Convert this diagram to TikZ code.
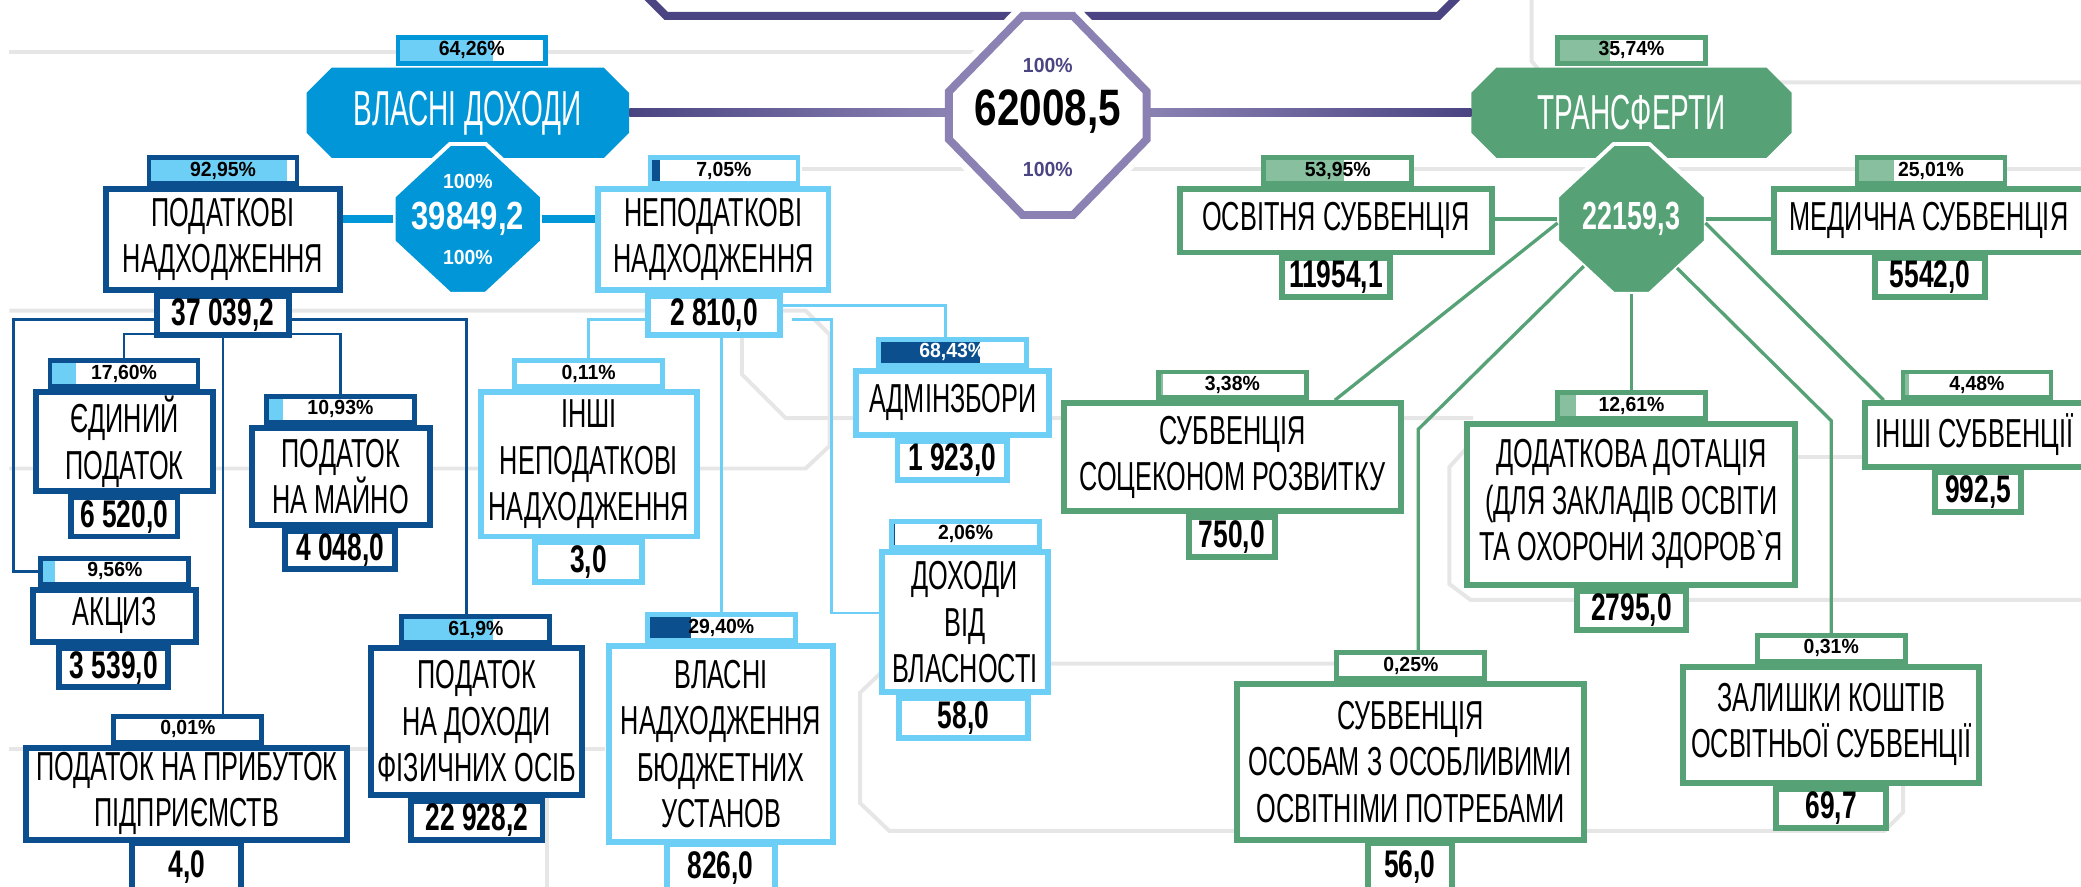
\documentclass[tikz,border=0pt]{standalone}
\usepackage{fontspec}
\usetikzlibrary{calc}
\newfontfamily\boxfont{Liberation Sans}[FakeStretch=0.625]
\newfontfamily\numfont{Liberation Sans}[FakeStretch=0.685]
\newfontfamily\headfont{Liberation Sans}[FakeStretch=0.57]
\newfontfamily\octfont{Liberation Sans}[FakeStretch=0.79]
\newfontfamily\pctfont{Liberation Sans}[FakeStretch=0.95]
\definecolor{dblue}{HTML}{0B4F8E}
\definecolor{pblue}{HTML}{0096D7}
\definecolor{lblue}{HTML}{6DCFF6}
\definecolor{grn}{HTML}{56A276}
\definecolor{lgrn}{HTML}{87BF9F}
\definecolor{dpurp}{HTML}{4A4582}
\definecolor{lpurp}{HTML}{8B82B3}
\definecolor{lgray}{HTML}{E6E6E6}
\newcommand\octshape[5]{(#1) ++(-#2,-#5) -- ++(0,2*#5) -- ++(#2-#4,#3-#5) -- ++(2*#4,0) -- ++(#2-#4,-#3+#5) -- ++(0,-2*#5) -- ++(-#2+#4,-#3+#5) -- ++(-2*#4,0) -- cycle}
\begin{document}
\begin{tikzpicture}[x=1pt,y=-1pt,
  txtbox/.style={draw=#1,line width=4.5pt,fill=white,inner sep=0pt,align=center,font=\boxfont\fontsize{30.5}{35}\selectfont},
  valbox/.style={draw=#1,line width=4.5pt,fill=white,inner sep=0pt,font=\numfont\bfseries\fontsize{29}{30}\selectfont},
  pcttab/.style n args={3}{draw=#1,line width=3.5pt,fill=white,minimum width=111.5pt,minimum height=19.5pt,inner sep=0pt,
    font=\pctfont\bfseries\fontsize{15.4}{16}\selectfont,
    path picture={\fill[#2] (path picture bounding box.south west) rectangle ($(path picture bounding box.north west)!#3!(path picture bounding box.north east)$);}},
  sz/.style 2 args={minimum width=#1pt,minimum height=#2pt},
  grayline/.style={lgray,line width=3pt},
  dline/.style={dblue,line width=2pt},
  lline/.style={lblue,line width=2pt},
  gline/.style={grn,line width=2.5pt},
  octnum/.style={inner sep=0pt,font=\octfont\bfseries\fontsize{29.6}{30}\selectfont},
  hundred/.style={inner sep=0pt,font=\pctfont\bfseries\fontsize{15.4}{16}\selectfont}]
\useasboundingbox (0,0) rectangle (1568,668);
\draw[grayline] (7,39) -- (745,39);
\draw[grayline] (604,127) -- (1568,127);
\draw[grayline] (7,234) -- (607,234) -- (625,252) -- (625,336) -- (607,353) -- (7,353);
\draw[grayline] (559,240) -- (559,282) -- (592,315) -- (1110,315);
\draw[grayline] (1112,330) -- (1092,352) -- (1092,440) -- (1108,452) -- (1568,452);
\draw[grayline] (1300,344) -- (1410,344);
\draw[grayline] (1154,0) -- (1154,46) -- (1163,57) -- (1250,57) -- (1255,62) -- (1568,62);
\draw[grayline] (1006,500) -- (671,500) -- (648,522) -- (648,605) -- (670,626) -- (1420,626) -- (1434,612) -- (1434,592);
\draw[grayline] (7,564) -- (456,564);
\draw[grayline] (412,600) -- (412,668);
\draw[dpurp,line width=6pt] (482,-8) -- (502,12) -- (1084,12) -- (1104,-8);

\node[pcttab={pblue}{lblue}{0.6426}] (tvd) at (355.5,38) {64,26\%};
\fill[pblue] \octshape{352.5,85}{121.5}{34}{102.5}{15};
\node[sz={243}{68},inner sep=0pt,text=white,font=\headfont\fontsize{37}{40}\selectfont] (vd) at (352.5,85) {ВЛАСНІ ДОХОДИ};
\node[pcttab={grn}{lgrn}{0.3574}] (ttr) at (1229.3,38) {35,74\%};
\fill[grn] \octshape{1229.3,85}{120.7}{34}{101.7}{15};
\node[sz={241}{68},inner sep=0pt,text=white,font=\headfont\fontsize{37}{40}\selectfont] (tr) at (1229.3,85) {ТРАНСФЕРТИ};

\draw[white,line width=3pt,fill=pblue] \octshape{352.5,165}{56}{56.5}{13.5}{17};
\node[octnum,sz={112}{30},text=white] (boct) at (352.5,165) {39849,2};
\node[hundred,text=white] (boctT) at ([yshift=28.5pt]boct.center) {100\%};
\node[hundred,text=white] (boctB) at ([yshift=-29pt]boct.center) {100\%};
\draw[white,line width=3pt,fill=grn] \octshape{1229.3,165}{56}{56.5}{13.5}{17};
\node[octnum,sz={112}{30},text=white,font=\numfont\bfseries\fontsize{29.6}{30}\selectfont] (goct) at (1229.3,165) {22159,3};

\draw[white,line width=16pt] \octshape{789.5,87}{74.5}{75}{19}{18};
\draw[lpurp,line width=6pt,fill=white] \octshape{789.5,87}{74.5}{75}{19}{18};
\node[inner sep=0pt,sz={149}{40},font=\octfont\bfseries\fontsize{38.6}{40}\selectfont] (cen) at (789.5,84) {62008,5};
\node[hundred,text=dpurp] (cenT) at ([yshift=35pt]cen.center) {100\%};
\node[hundred,text=dpurp] (cenB) at ([yshift=-44pt]cen.center) {100\%};

\node[pcttab={dblue}{lblue}{0.9295}] (tpod) at (168,128.5) {92,95\%};
\node[txtbox=dblue,sz={176.5}{76}] (pod) at (168,180.25) {ПОДАТКОВІ\\НАДХОДЖЕННЯ};
\node[valbox=dblue,sz={99.5}{30}] (vpod) at (168,237.75) {37 039,2};
\node[pcttab={dblue}{lblue}{0.176}] (tedy) at (93.5,281.5) {17,60\%};
\node[txtbox=dblue,sz={133}{75}] (edy) at (93.75,332.75) {ЄДИНИЙ\\ПОДАТОК};
\node[valbox=dblue,sz={80.5}{29.5}] (vedy) at (93.5,389.5) {6 520,0};
\node[pcttab={dblue}{lblue}{0.0956}] (takc) at (86.5,430.5) {9,56\%};
\node[txtbox=dblue,sz={123}{39.5}] (akc) at (86.25,464) {АКЦИЗ};
\node[valbox=dblue,sz={82}{29.5}] (vakc) at (85.75,503) {3 539,0};
\node[pcttab={dblue}{lblue}{0.1093}] (tmai) at (256.5,308.5) {10,93\%};
\node[txtbox=dblue,sz={134}{73.5}] (mai) at (256.75,359) {ПОДАТОК\\НА МАЙНО};
\node[valbox=dblue,sz={83}{28.5}] (vmai) at (256.25,414.5) {4 048,0};
\node[pcttab={dblue}{lblue}{0.619}] (tfiz) at (358.5,474.5) {61,9\%};
\node[txtbox=dblue,sz={159}{110.5}] (fiz) at (359.25,543.5) {ПОДАТОК\\НА ДОХОДИ\\ФІЗИЧНИХ ОСІБ};
\node[valbox=dblue,sz={99}{29.5}] (vfiz) at (359.25,618) {22 928,2};
\node[pcttab={dblue}{lblue}{0.0001}] (tpri) at (141.5,549.5) {0,01\%};
\node[txtbox=dblue,sz={242}{69.5}] (pri) at (140.75,598) {ПОДАТОК НА ПРИБУТОК\\ПІДПРИЄМСТВ};
\node[valbox=dblue,sz={82}{36}] (vpri) at (140.75,653) {4,0};

\node[pcttab={lblue}{dblue}{0.0705}] (tnep) at (545.5,128.5) {7,05\%};
\node[txtbox=lblue,sz={173.5}{76}] (nep) at (537.5,180.25) {НЕПОДАТКОВІ\\НАДХОДЖЕННЯ};
\node[valbox=lblue,sz={99.5}{30}] (vnep) at (538,237.75) {2 810,0};
\node[pcttab={lblue}{dblue}{0.0011}] (tinn) at (443.5,281.5) {0,11\%};
\node[txtbox=lblue,sz={163}{109}] (inn) at (443.75,349.75) {ІНШІ\\НЕПОДАТКОВІ\\НАДХОДЖЕННЯ};
\node[valbox=lblue,sz={80.5}{29.5}] (vinn) at (443.5,423.5) {3,0};
\node[pcttab={lblue}{dblue}{0.6843},text=white] (tadm) at (717.5,265.5) {68,43\%};
\node[txtbox=lblue,sz={145.5}{48.5}] (adm) at (718,303.5) {АДМІНЗБОРИ};
\node[valbox=lblue,sz={82.5}{29.5}] (vadm) at (717.5,347) {1 923,0};
\node[pcttab={lblue}{dblue}{0.0206}] (tvla) at (727.5,402.5) {2,06\%};
\node[txtbox=lblue,sz={125.5}{105.5}] (vla) at (727,469) {ДОХОДИ\\ВІД\\ВЛАСНОСТІ};
\node[valbox=lblue,sz={97.5}{29.5}] (vvla) at (726,541) {58,0};
\node[pcttab={lblue}{dblue}{0.294}] (tbud) at (543.5,473) {29,40\%};
\node[txtbox=lblue,sz={169}{148}] (bud) at (543.25,560.75) {ВЛАСНІ\\НАДХОДЖЕННЯ\\БЮДЖЕТНИХ\\УСТАНОВ};
\node[valbox=lblue,sz={81.5}{36}] (vbud) at (543,654) {826,0};

\node[pcttab={grn}{lgrn}{0.5395}] (tosv) at (1008,128.5) {53,95\%};
\node[txtbox=grn,sz={235}{48}] (osv) at (1006.5,166.25) {ОСВІТНЯ СУБВЕНЦІЯ};
\node[valbox=grn,sz={82}{29}] (vosv) at (1006.6,209) {11954,1};
\node[pcttab={grn}{lgrn}{0.2501}] (tmed) at (1455,128.5) {25,01\%};
\node[txtbox=grn,sz={233}{48}] (med) at (1453.5,166.25) {МЕДИЧНА СУБВЕНЦІЯ};
\node[valbox=grn,sz={82.5}{29}] (vmed) at (1454.3,209) {5542,0};
\node[pcttab={grn}{lgrn}{0.0338}] (tsoc) at (928.5,290) {3,38\%};
\node[txtbox=grn,sz={254}{81.5}] (soc) at (928.6,344.5) {СУБВЕНЦІЯ\\СОЦЕКОНОМ РОЗВИТКУ};
\node[valbox=grn,sz={65}{30}] (vsoc) at (928.1,404.5) {750,0};
\node[pcttab={grn}{lgrn}{0.1261}] (tdod) at (1229.3,305.5) {12,61\%};
\node[txtbox=grn,sz={247}{121.5}] (dod) at (1229.1,380) {ДОДАТКОВА ДОТАЦІЯ\\(ДЛЯ ЗАКЛАДІВ ОСВІТИ\\ТА ОХОРОНИ ЗДОРОВ`Я};
\node[valbox=grn,sz={82.5}{30}] (vdod) at (1229.3,460) {2795,0};
\node[pcttab={grn}{lgrn}{0.0448}] (tins) at (1489.5,290) {4,48\%};
\node[txtbox=grn,sz={164.5}{48}] (ins) at (1487.8,327.75) {ІНШІ СУБВЕНЦІЇ};
\node[valbox=grn,sz={65}{30}] (vins) at (1490.5,371) {992,5};
\node[pcttab={grn}{lgrn}{0.0025}] (tosb) at (1063,501.5) {0,25\%};
\node[txtbox=grn,sz={262}{117.5}] (osb) at (1062.8,574) {СУБВЕНЦІЯ\\ОСОБАМ З ОСОБЛИВИМИ\\ОСВІТНІМИ ПОТРЕБАМИ};
\node[valbox=grn,sz={63}{36}] (vosb) at (1062.3,653) {56,0};
\node[pcttab={grn}{lgrn}{0.0031}] (tzal) at (1379.8,488.5) {0,31\%};
\node[txtbox=grn,sz={223}{87.5}] (zal) at (1379.8,546) {ЗАЛИШКИ КОШТІВ\\ОСВІТНЬОЇ СУБВЕНЦІЇ};
\node[valbox=grn,sz={83}{29.5}] (vzal) at (1379.8,609) {69,7};

\shade[left color=dpurp,right color=lpurp] ([yshift=3pt]vd.east) rectangle ([yshift=-3pt]vd.east -| cen.west);
\shade[left color=lpurp,right color=dpurp] ([yshift=3pt]tr.west -| cen.east) rectangle ([yshift=-3pt]tr.west);
\draw[pblue,line width=6pt] (boct.west -| pod.east) -- (boct.west);
\draw[pblue,line width=6pt] (boct.east) -- (boct.east -| nep.west);
\draw[gline] (goct.west -| osv.east) -- (goct.west);
\draw[gline] (goct.east) -- (goct.east -| med.west);

\draw[dline] ([yshift=-3pt]vpod.west) -- ++(-106,0) |- (takc.west);
\draw[dline] ([yshift=-14pt]vpod.west) -| (tedy.north);
\draw[dline] ([yshift=-14pt]vpod.east) -| (tmai.north);
\draw[dline] ([yshift=-3pt]vpod.east) -| ([xshift=-7pt]tfiz.north);
\draw[dline] (vpod.south) -- (vpod.south |- tpri.north);

\draw[lline] ([yshift=-3pt]vnep.west) -| (tinn.north);
\draw[lline] (vnep.south -| tbud.north) -- (tbud.north);
\draw[lline] ([yshift=7.75pt]vnep.east) -| ([xshift=-5pt]tadm.north);
\draw[lline] ([xshift=7pt,yshift=-3pt]vnep.east) -- ++(29.5,0) |- ([yshift=7pt]vla.west);

\draw[gline] ([xshift=-55.7pt,yshift=-3pt]goct.center) -- ([xshift=-52pt]soc.north east);
\draw[gline] ([xshift=-36pt,yshift=-35.6pt]goct.center) -- ([xshift=5.6pt]tosb.north |- 0,323.5) -- ([xshift=5.6pt]tosb.north);
\draw[gline] ([yshift=-56.5pt]goct.center) -- (tdod.north);
\draw[gline] ([xshift=34.3pt,yshift=-37pt]goct.center) -- (tzal.north |- 0,317) -- (tzal.north);
\draw[gline] ([xshift=55.7pt,yshift=-3pt]goct.center) -- ([xshift=16pt]ins.north west);
\end{tikzpicture}
\end{document}
